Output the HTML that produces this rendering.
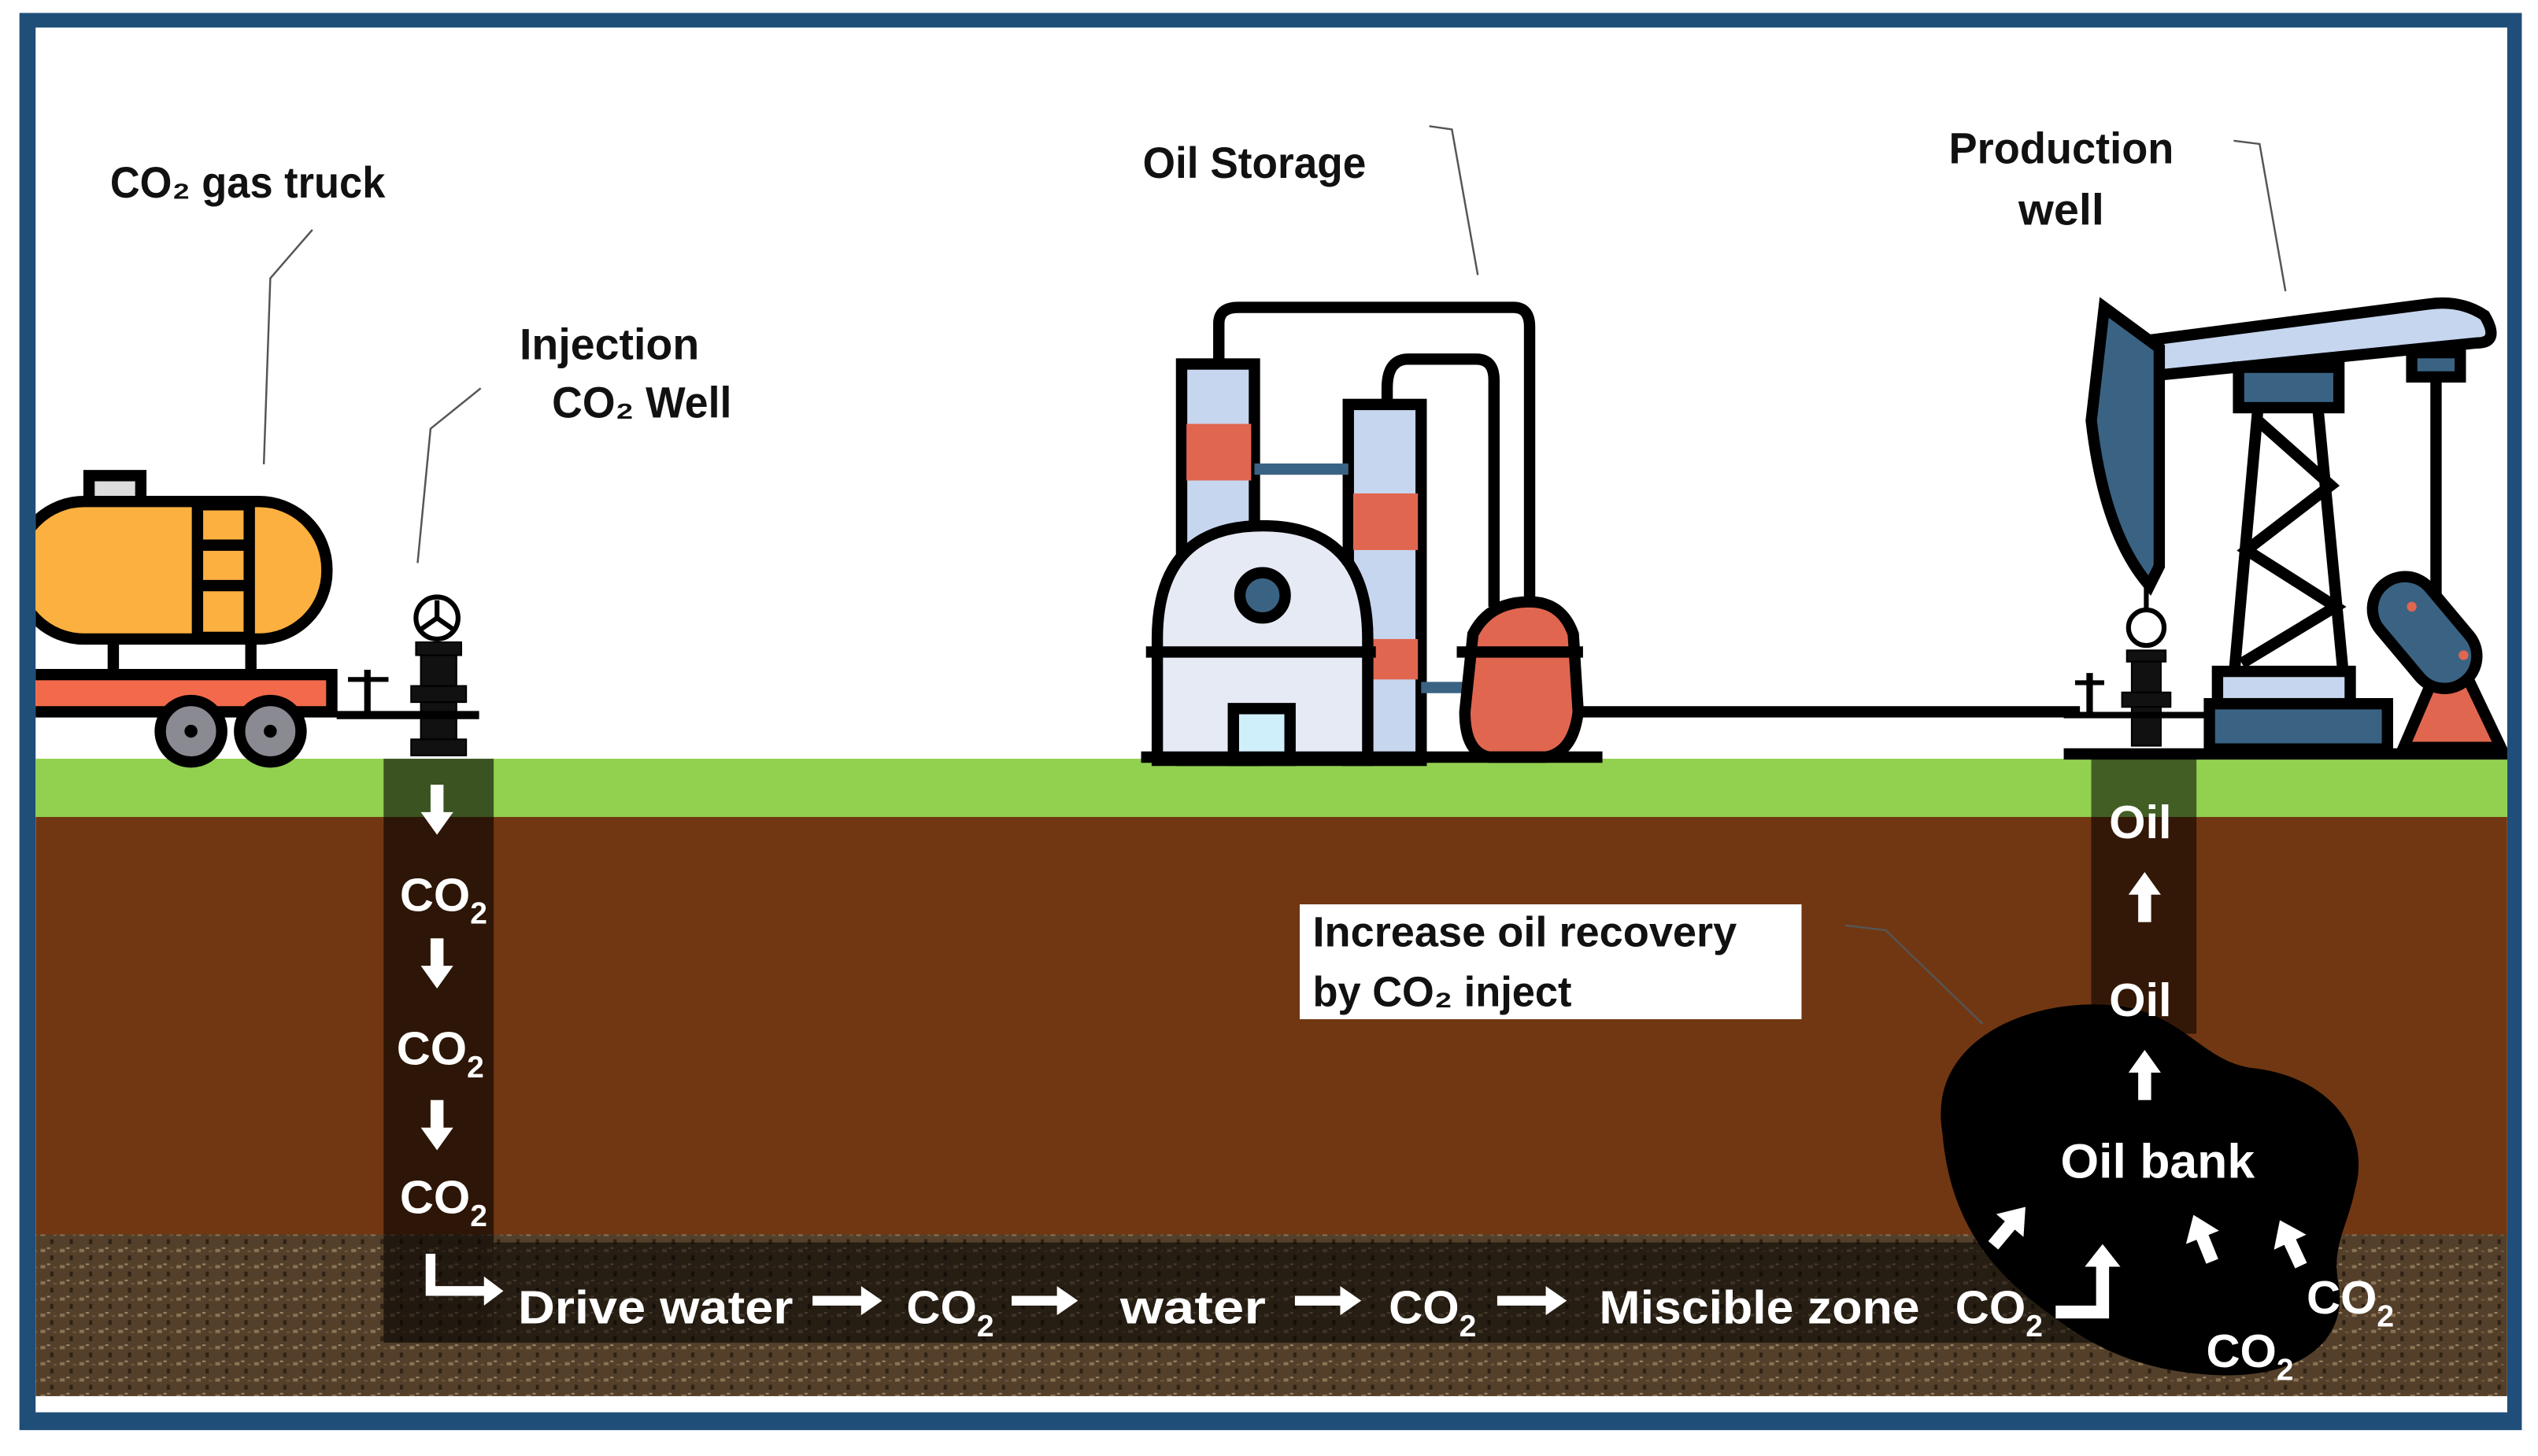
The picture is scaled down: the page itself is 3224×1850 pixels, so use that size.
<!DOCTYPE html>
<html><head><meta charset="utf-8"><style>
html,body{margin:0;padding:0;background:#fff}
svg{display:block}
text{font-family:"Liberation Sans","DejaVu Sans",sans-serif;font-weight:bold}
</style></head><body>
<svg width="3224" height="1850" viewBox="0 0 1568 900" preserveAspectRatio="none" xmlns="http://www.w3.org/2000/svg">
<defs>
<pattern id="rock" width="12" height="10" patternUnits="userSpaceOnUse">
<rect width="12" height="10" fill="#54402a"/>
<rect x="1" y="2" width="3" height="2" fill="#8a7253"/>
<rect x="7" y="6" width="2" height="3" fill="#2e2216"/>
<rect x="5" y="1" width="2" height="1" fill="#9d8668"/>
<rect x="9" y="3" width="2" height="1" fill="#6e5a40"/>
</pattern>
<clipPath id="inner"><rect x="22" y="17" width="1527" height="856"/></clipPath>
<path id="ua" d="M-4,18 h8 v-16 h7 l-11,-15 l-11,15 h7 z"/>
</defs>
<rect x="0" y="0" width="1568" height="900" fill="#fff"/>
<rect x="12" y="8" width="1546" height="876" fill="#1F4E79"/>
<rect x="22" y="17" width="1527" height="856" fill="#fff"/>
<g clip-path="url(#inner)">
<rect x="22" y="469" width="1527" height="37" fill="#92D050"/>
<rect x="22" y="505" width="1527" height="259" fill="#713712"/>
<rect x="22" y="763" width="1527" height="100" fill="url(#rock)"/>
<rect x="237" y="469" width="68" height="361" fill="#000" opacity="0.6"/>
<rect x="305" y="768" width="990" height="62" fill="#000" opacity="0.55"/>
<rect x="1292" y="469" width="65" height="170" fill="#000" opacity="0.55"/>
<path d="M1200,700 C1190,640 1260,615 1310,622 C1350,628 1360,655 1390,660 C1440,665 1465,700 1455,735 C1450,760 1440,770 1445,795 C1450,830 1420,852 1370,850 C1320,848 1290,830 1270,815 C1235,790 1205,760 1200,700 Z" fill="#000"/>
<g stroke="#000" stroke-width="7">
<rect x="55" y="294" width="32" height="18" fill="#ddd"/>
<rect x="10" y="310" width="192" height="85" rx="42" fill="#FBB040"/>
<rect x="122" y="312" width="32" height="82" fill="#FBB040"/>
<line x1="122" y1="337" x2="154" y2="337"/><line x1="122" y1="362" x2="154" y2="362"/>
<line x1="70" y1="395" x2="70" y2="417"/><line x1="155" y1="395" x2="155" y2="417"/>
<rect x="14" y="417" width="191" height="23" fill="#F26A4B"/>
<circle cx="118" cy="452" r="19" fill="#8a8a92"/>
<circle cx="167" cy="452" r="19" fill="#8a8a92"/>
</g>
<circle cx="118" cy="452" r="4" fill="#000"/><circle cx="167" cy="452" r="4" fill="#000"/>
</g>
<g stroke="#555" stroke-width="1.2" fill="none">
<polyline points="193,142 167,172 163,287"/>
<polyline points="297,240 266,265 258,348"/>
<polyline points="883,78 897,80 913,170"/>
<polyline points="1380,87 1396,89 1412,180"/>
<polyline points="1140,572 1165,575 1225,633"/>
</g>
<g fill="#111" font-size="27">
<text x="68" y="122" textLength="170" lengthAdjust="spacingAndGlyphs">CO₂ gas truck</text>
<text x="321" y="222" textLength="111" lengthAdjust="spacingAndGlyphs">Injection</text>
<text x="341" y="258" textLength="111" lengthAdjust="spacingAndGlyphs">CO₂ Well</text>
<text x="706" y="110" textLength="138" lengthAdjust="spacingAndGlyphs">Oil Storage</text>
<text x="1204" y="101" textLength="139" lengthAdjust="spacingAndGlyphs">Production</text>
<text x="1247" y="139" textLength="53" lengthAdjust="spacingAndGlyphs">well</text>
</g>
<g stroke="#000" fill="#111">
<circle cx="270" cy="382" r="13" fill="#fff" stroke-width="3"/>
<path d="M270,382 L270,371 M270,382 L260,389 M270,382 L280,389" stroke-width="3"/>
<rect x="257" y="397" width="28" height="8"/>
<rect x="260" y="405" width="22" height="60"/>
<rect x="254" y="424" width="34" height="10"/>
<rect x="254" y="457" width="34" height="10"/>
<line x1="208" y1="442" x2="296" y2="442" stroke-width="5"/>
<line x1="215" y1="420" x2="240" y2="420" stroke-width="3"/>
<line x1="227" y1="414" x2="227" y2="442" stroke-width="4"/>
</g>
<g stroke="#000" stroke-width="7" fill="none">
<path d="M753,225 V200 Q753,190 765,190 H935 Q945,190 945,202 V375"/>
<path d="M857,250 V240 Q857,222 870,222 H912 Q923,222 923,235 V375"/>
</g>
<g stroke="#000" stroke-width="7">
<rect x="730" y="225" width="45" height="245" fill="#C6D6EF"/>
<rect x="733" y="262" width="40" height="35" fill="#E06650" stroke="none"/>
<rect x="833" y="250" width="45" height="220" fill="#C6D6EF"/>
<rect x="836" y="305" width="40" height="35" fill="#E06650" stroke="none"/>
<rect x="836" y="395" width="40" height="25" fill="#E06650" stroke="none"/>
<line x1="775" y1="290" x2="833" y2="290" stroke="#3A6383"/>
<path d="M715,470 V395 Q715,325 780,325 Q845,325 845,395 V470 Z" fill="#E6EAF5"/>
<line x1="708" y1="403" x2="850" y2="403"/>
<circle cx="780" cy="368" r="14" fill="#3A6383"/>
<rect x="762" y="438" width="35" height="32" fill="#CFEFFB"/>
<line x1="878" y1="425" x2="905" y2="425" stroke="#3A6383"/>
<path d="M910,392 Q920,372 945,372 Q965,372 972,392 L975,440 Q972,465 955,468 H920 Q905,465 905,440 Z" fill="#E06650"/>
<line x1="900" y1="403" x2="978" y2="403"/>
<line x1="705" y1="468" x2="990" y2="468"/>
<line x1="975" y1="440" x2="1285" y2="440"/>
</g>
<g stroke="#000" fill="#111">
<circle cx="1326" cy="388" r="11" fill="#fff" stroke-width="3"/>
<rect x="1314" y="402" width="24" height="7"/>
<rect x="1317" y="409" width="18" height="52"/>
<rect x="1311" y="428" width="30" height="9"/>
<line x1="1275" y1="442" x2="1370" y2="442" stroke-width="4"/>
<line x1="1282" y1="422" x2="1300" y2="422" stroke-width="3"/>
<line x1="1291" y1="416" x2="1291" y2="442" stroke-width="4"/>
<line x1="1275" y1="466" x2="1549" y2="466" stroke-width="7"/>
<line x1="1326" y1="360" x2="1326" y2="377" stroke-width="3"/>
</g>
<g stroke="#000" stroke-width="7" clip-path="url(#inner)">
<path d="M1332,232 L1530,212 Q1545,212 1535,195 Q1520,185 1500,188 L1330,210 Z" fill="#C6D6EF"/>
<path d="M1300,190 L1334,215 L1334,350 L1328,362 Q1300,330 1292,260 Z" fill="#3A6383"/>
<rect x="1383" y="227" width="62" height="25" fill="#3A6383"/>
<path d="M1395,252 L1380,420 M1432,252 L1448,420 M1395,260 L1440,300 L1388,340 L1443,375 L1385,410" fill="none"/>
<rect x="1370" y="415" width="82" height="20" fill="#C6D6EF"/>
<rect x="1365" y="435" width="110" height="28" fill="#3A6383"/>
<line x1="1505" y1="230" x2="1505" y2="370"/>
<rect x="1490" y="218" width="30" height="15" fill="#3A6383"/>
<path d="M1503,420 L1525,420 L1545,462 L1485,462 Z" fill="#E06650"/>
<rect x="1478" y="352" width="40" height="78" rx="20" fill="#3A6383" transform="rotate(-40 1498 391)"/>
<circle cx="1490" cy="375" r="3" fill="#E06650" stroke="none"/>
<circle cx="1522" cy="405" r="3" fill="#E06650" stroke="none"/>
</g>
<rect x="803" y="559" width="310" height="71" fill="#fff"/>
<g fill="#111" font-size="26">
<text x="811" y="585" textLength="262" lengthAdjust="spacingAndGlyphs">Increase oil recovery</text>
<text x="811" y="622" textLength="160" lengthAdjust="spacingAndGlyphs">by CO₂ inject</text>
</g>
<g fill="#fff" stroke="none">
<path d="M266,485 h8 v17 h6 l-10,14 l-10,-14 h6 z"/>
<path d="M266,580 h8 v17 h6 l-10,14 l-10,-14 h6 z"/>
<path d="M266,680 h8 v17 h6 l-10,14 l-10,-14 h6 z"/>
<path d="M1321,570 h8 v-17 h6 l-10,-14 l-10,14 h6 z"/>
<path d="M1321,680 h8 v-17 h6 l-10,-14 l-10,14 h6 z"/>
<path d="M263,775 h6 v20 h30 v-6 l12,9 l-12,9 v-6 h-36 z"/>
<path d="M502,801 h30 v-6 l13,9 l-13,9 v-6 h-30 z"/>
<path d="M625,801 h28 v-6 l13,9 l-13,9 v-6 h-28 z"/>
<path d="M800,801 h28 v-6 l13,9 l-13,9 v-6 h-28 z"/>
<path d="M925,801 h30 v-6 l13,9 l-13,9 v-6 h-30 z"/>
<path d="M1270,807 h25 v-24 h-7 l11,-14 l11,14 h-7 v32 h-33 z"/>
<use href="#ua" transform="translate(1243,756) rotate(40)"/>
<use href="#ua" transform="translate(1360,763) rotate(-22)"/>
<use href="#ua" transform="translate(1414,766) rotate(-25)"/>
</g>
<g fill="#fff" font-size="29">
<text x="247" y="563">CO<tspan font-size="19" dy="8">2</tspan></text>
<text x="245" y="658">CO<tspan font-size="19" dy="8">2</tspan></text>
<text x="247" y="750">CO<tspan font-size="19" dy="8">2</tspan></text>
<text x="1303" y="518">Oil</text>
<text x="1303" y="628">Oil</text>
<text x="1273" y="728" font-size="30" textLength="120" lengthAdjust="spacingAndGlyphs">Oil bank</text>
<text x="320" y="818" textLength="170" lengthAdjust="spacingAndGlyphs">Drive water</text>
<text x="560" y="818">CO<tspan font-size="19" dy="8">2</tspan></text>
<text x="692" y="818" textLength="90" lengthAdjust="spacingAndGlyphs">water</text>
<text x="858" y="818">CO<tspan font-size="19" dy="8">2</tspan></text>
<text x="988" y="818" textLength="198" lengthAdjust="spacingAndGlyphs">Miscible zone</text>
<text x="1208" y="818">CO<tspan font-size="19" dy="8">2</tspan></text>
<text x="1425" y="812">CO<tspan font-size="19" dy="8">2</tspan></text>
<text x="1363" y="845">CO<tspan font-size="19" dy="8">2</tspan></text>
</g>
</svg>
</body></html>
